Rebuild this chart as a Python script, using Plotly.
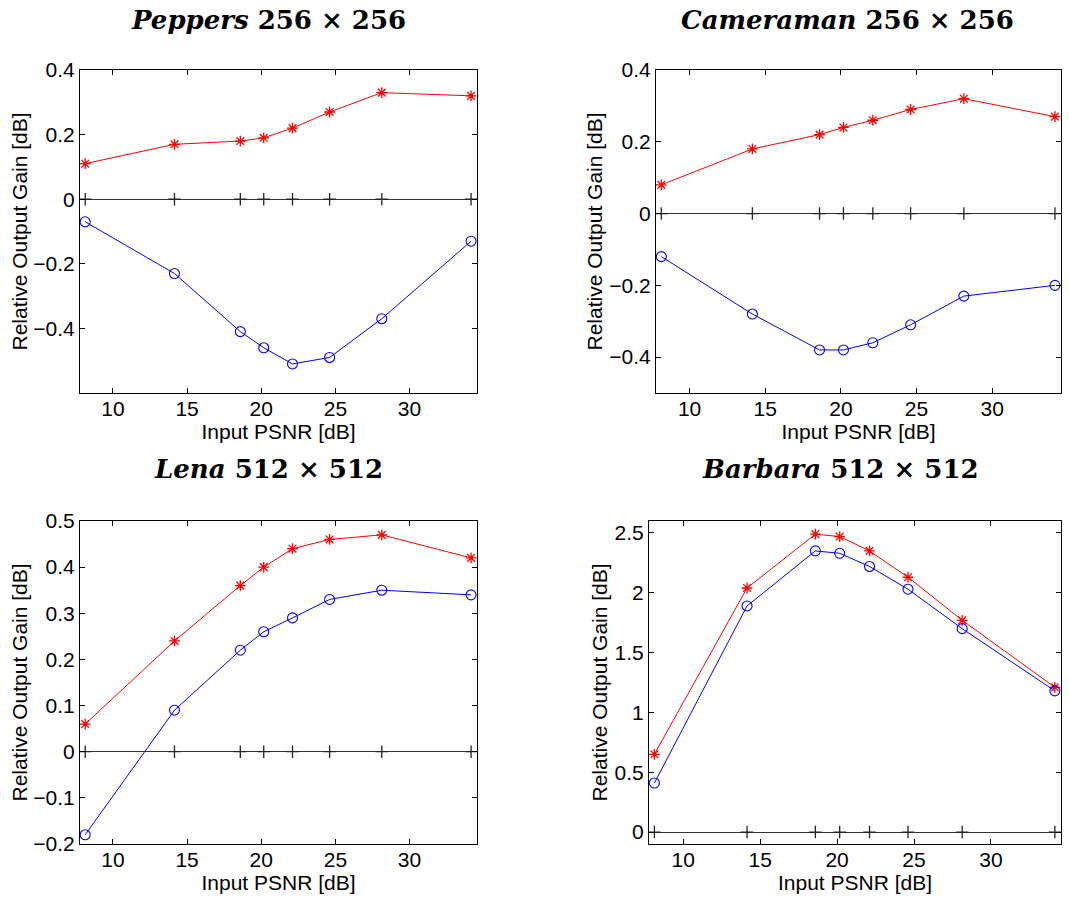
import plotly.graph_objects as go

W, H = 1069, 898

psnr = [8.13, 14.15, 18.59, 20.17, 22.11, 24.61, 28.13, 34.15]
x_ticks = [10, 15, 20, 25, 30]

titles = ["<i>Peppers</i> 256 × 256", "<i>Cameraman</i> 256 × 256",
          "<i>Lena</i> 512 × 512", "<i>Barbara</i> 512 × 512"]

peppers_red = [0.11, 0.17, 0.18, 0.19, 0.22, 0.27, 0.33, 0.32]
peppers_blue = [-0.07, -0.23, -0.41, -0.46, -0.51, -0.49, -0.37, -0.13]
cameraman_red = [0.08, 0.18, 0.22, 0.24, 0.26, 0.29, 0.32, 0.27]
cameraman_blue = [-0.12, -0.28, -0.38, -0.38, -0.36, -0.31, -0.23, -0.20]
lena_red = [0.06, 0.24, 0.36, 0.40, 0.44, 0.46, 0.47, 0.42]
lena_blue = [-0.18, 0.09, 0.22, 0.26, 0.29, 0.33, 0.35, 0.34]
barbara_red = [0.65, 2.04, 2.49, 2.47, 2.35, 2.13, 1.77, 1.21]
barbara_blue = [0.41, 1.89, 2.35, 2.33, 2.22, 2.03, 1.70, 1.18]

y_ranges = [[-0.6, 0.4], [-0.5, 0.4], [-0.2, 0.5], [-0.1, 2.6]]
y_ticks = [[-0.4, -0.2, 0, 0.2, 0.4], [-0.4, -0.2, 0, 0.2, 0.4],
           [-0.2, -0.1, 0, 0.1, 0.2, 0.3, 0.4, 0.5], [0, 0.5, 1, 1.5, 2, 2.5]]
x_range = [7.78, 34.55]

series = [(peppers_red, peppers_blue), (cameraman_red, cameraman_blue),
          (lena_red, lena_blue), (barbara_red, barbara_blue)]

# pixel boxes: left, right, top, bottom
boxes = [(80, 477, 70, 393), (656, 1061, 70, 393),
         (80, 477, 521, 844), (649, 1061, 521, 844)]
title_pos = [(268, 3), (847, 3), (268, 452), (840, 452)]
ytitle_x = [19, 594, 19, 599]

SANS = "Liberation Sans, Arial, sans-serif"

fig = go.Figure()
for i, ((red, blue), (l, r, t, b)) in enumerate(zip(series, boxes)):
    n = i + 1
    xa = "x" if n == 1 else f"x{n}"
    ya = "y" if n == 1 else f"y{n}"
    fig.add_trace(go.Scatter(x=psnr, y=[0] * len(psnr), xaxis=xa, yaxis=ya,
                             mode="markers", showlegend=False,
                             marker=dict(symbol="cross-thin-open", size=9, color="#222222",
                                         line=dict(color="#222222", width=1.3))))
    fig.add_trace(go.Scatter(x=psnr, y=red, xaxis=xa, yaxis=ya, mode="lines+markers",
                             showlegend=False, line=dict(color="#ff0000", width=1),
                             marker=dict(symbol="asterisk-open", size=9, color="#ff0000",
                                         line=dict(color="#ff0000", width=1.3))))
    fig.add_trace(go.Scatter(x=psnr, y=blue, xaxis=xa, yaxis=ya, mode="lines+markers",
                             showlegend=False, line=dict(color="#0000ff", width=1),
                             marker=dict(symbol="circle-open", size=10, color="#0000ff",
                                         line=dict(color="#0000ff", width=1.1))))
    axis_common = dict(showline=True, linecolor="black", linewidth=1.2, mirror="ticks",
                       ticks="inside", ticklen=5, tickcolor="black", showgrid=False,
                       automargin=False,
                       tickfont=dict(family=SANS, size=21, color="black"))
    xkey = "xaxis" if n == 1 else f"xaxis{n}"
    ykey = "yaxis" if n == 1 else f"yaxis{n}"
    fig.layout[xkey] = dict(domain=[l / W, r / W], range=x_range, tickvals=x_ticks,
                            anchor=ya, zeroline=False, ticklabelstandoff=-3,
                            title=dict(text="Input PSNR [dB]", standoff=0,
                                       font=dict(family=SANS, size=21, color="black")),
                            **axis_common)
    fig.layout[ykey] = dict(domain=[1 - b / H, 1 - t / H], range=y_ranges[i],
                            tickvals=y_ticks[i], anchor=xa,
                            zeroline=True, zerolinecolor="#333333", zerolinewidth=1.3,
                            **axis_common)
    fig.add_annotation(text=titles[i], x=title_pos[i][0] / W, y=1 - title_pos[i][1] / H,
                       xref="paper", yref="paper", showarrow=False,
                       xanchor="center", yanchor="top",
                       font=dict(family="DejaVu Serif, Liberation Serif", size=26,
                                 color="black", weight="bold"))
    fig.add_annotation(text="Relative Output Gain [dB]", x=ytitle_x[i] / W,
                       y=1 - (t + b) / 2 / H, xref="paper", yref="paper",
                       showarrow=False, textangle=-90, xanchor="center", yanchor="middle",
                       font=dict(family=SANS, size=21, color="black"))

fig.update_layout(width=W, height=H, margin=dict(l=0, r=0, t=0, b=0),
                  paper_bgcolor="white", plot_bgcolor="white")
fig.write_html("out.html")
